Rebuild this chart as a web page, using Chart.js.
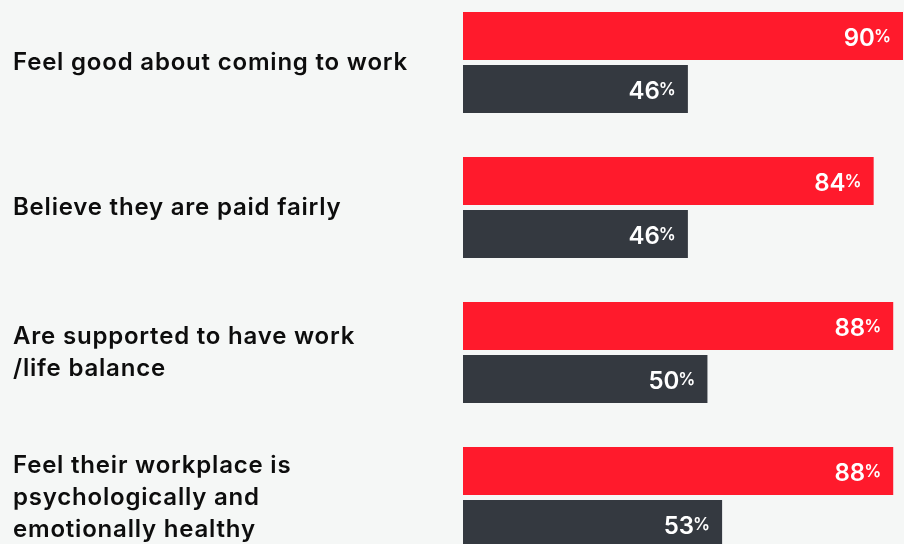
<!DOCTYPE html>
<html>
<head>
<meta charset="utf-8">
<script src="https://cdn.jsdelivr.net/npm/chart.js@4.4.1/dist/chart.umd.min.js"></script>
<style>
  html, body { margin: 0; padding: 0; background: #F5F7F6; overflow: hidden; }
  body { width: 904px; height: 544px; position: relative; }
  #wrap { position: absolute; left: 0; top: -10px; width: 904px; height: 580px; }
</style>
</head>
<body>
<div id="wrap"><canvas id="chart"></canvas></div>
<script>
// categories (multi-line ones as arrays)
const categories = [
  'Feel good about coming to work',
  'Believe they are paid fairly',
  ['Are supported to have work', '/life balance'],
  ['Feel their workplace is', 'psychologically and', 'emotionally healthy']
];
// two series, in percent
const seriesRed = [90, 84, 88, 88];
const seriesGrey = [46, 46, 50, 53];

const RED = '#FF1A2C';
const GREY = '#343940';

// the original font is wider than Inter, so space the letters a bit
const wideText = {
  id: 'wideText',
  beforeDraw(chart) {
    chart.ctx.letterSpacing = '0.8px';
  }
};

// draws "90%" at the end of each bar, % a bit smaller and raised
const barLabels = {
  id: 'barLabels',
  afterDatasetsDraw(chart) {
    const ctx = chart.ctx;
    ctx.save();
    ctx.letterSpacing = '0px';
    ctx.fillStyle = '#fff';
    ctx.textBaseline = 'alphabetic';
    ctx.textAlign = 'left';
    chart.data.datasets.forEach((ds, i) => {
      const meta = chart.getDatasetMeta(i);
      meta.data.forEach((bar, j) => {
        const num = String(ds.data[j]);
        ctx.font = '600 17px Inter';
        const pw = ctx.measureText('%').width;
        ctx.font = '600 24px Inter';
        const nw = ctx.measureText(num).width;
        const right = bar.x - 12;
        const px = right - pw;
        const nx = px - nw + 1;
        ctx.fillText(num, nx, bar.y + 10);
        ctx.font = '600 17px Inter';
        ctx.fillText('%', px, bar.y + 6);
      });
    });
    ctx.restore();
  }
};

new Chart(document.getElementById('chart'), {
  type: 'bar',
  data: {
    labels: categories,
    datasets: [
      { data: seriesRed, backgroundColor: RED },
      { data: seriesGrey, backgroundColor: GREY }
    ]
  },
  options: {
    indexAxis: 'y',
    responsive: true,
    maintainAspectRatio: false,
    animation: false,
    categoryPercentage: 0.731,
    barPercentage: 0.906,
    layout: { padding: { left: 13, right: 1, top: 0, bottom: 0 } },
    plugins: { legend: { display: false }, tooltip: { enabled: false } },
    scales: {
      x: { display: false, min: 0, max: 90 },
      y: {
        grid: { display: false },
        border: { display: false },
        afterFit(scale) {
          scale.width = 450;
          // no extra room for the tall first/last labels
          scale.paddingTop = 0;
          scale.paddingBottom = 0;
        },
        ticks: {
          crossAlign: 'far',
          color: '#0d0d0d',
          font: { family: 'Inter', size: 24, weight: '600', lineHeight: 1.33 }
        }
      }
    }
  },
  plugins: [wideText, barLabels]
});
</script>
</body>
</html>
